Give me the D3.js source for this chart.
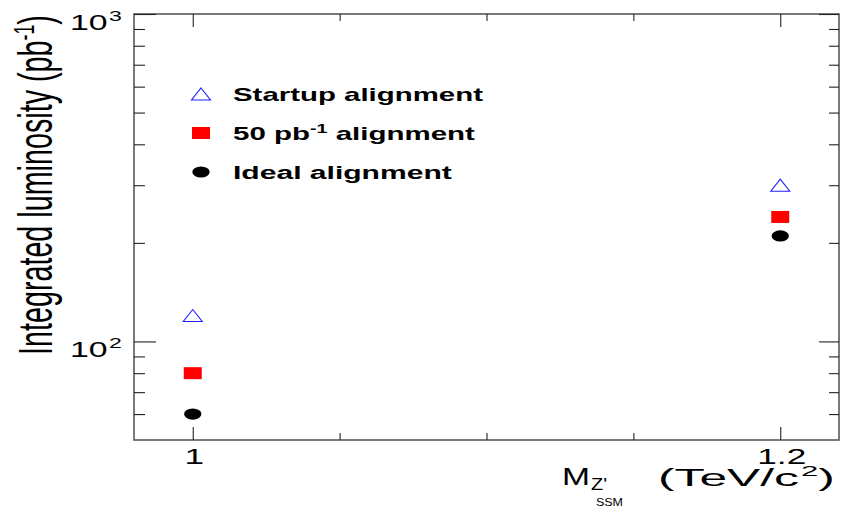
<!DOCTYPE html>
<html>
<head>
<meta charset="utf-8">
<script src="https://cdn.jsdelivr.net/npm/d3@7"></script>
<style>
  html, body { margin: 0; padding: 0; background: #fff; }
  svg { display: block; }
  text { font-family: "Liberation Sans", Arial, Helvetica, sans-serif; fill: #000; }
</style>
</head>
<body>
<svg id="chart" width="844" height="512"></svg>
<script>
// Z' (SSM) mass points, TeV/c^2
const masses = [1.0, 1.2];
// Integrated luminosity needed for each alignment scenario, pb^-1
const startupLumi = [120, 300];
const pb50Lumi = [80, 240];
const idealLumi = [60, 210];

const xMajorTicks = [1.0, 1.2];
const xMinorTicks = [1.05, 1.10, 1.15];
const xTickLabels = ["1", "1.2"];
const yMajorTicks = [100, 1000];
const yMinorTicks = [60, 70, 80, 90, 200, 300, 400, 500, 600, 700, 800, 900];
const yTickExponents = ["2", "3"];

// legend labels split into plain / superscript parts
const legendLabels = [
  [{ t: "Startup alignment" }],
  [{ t: "50 pb" }, { t: "-1", sup: true }, { t: " alignment" }],
  [{ t: "Ideal alignment" }]
];

const svg = d3.select("#chart");
const W = 844, H = 512;
const frame = { left: 134, right: 839, top: 14, bottom: 440 };

svg.append("rect").attr("width", W).attr("height", H).attr("fill", "#fff");

const x = d3.scaleLinear().domain([0.98, 1.22]).range([frame.left, frame.right]);
const y = d3.scaleLog().domain([50, 1000]).range([frame.bottom, frame.top]);

// ---- frame ----
svg.append("rect")
  .attr("x", frame.left).attr("y", frame.top)
  .attr("width", frame.right - frame.left)
  .attr("height", frame.bottom - frame.top)
  .attr("fill", "none").attr("stroke", "#5a5a5a").attr("stroke-width", 1.6);

// ---- ticks (drawn inward on all four sides) ----
function tickGroup(axis, tx, ty) {
  const g = svg.append("g").attr("transform", `translate(${tx},${ty})`).call(axis);
  g.select(".domain").remove();
  g.selectAll(".tick text").remove();
  g.selectAll(".tick line").attr("stroke", "#222").attr("stroke-width", 1.1);
  return g;
}
tickGroup(d3.axisRight(y).tickValues(yMajorTicks).tickSize(22).tickFormat(""), frame.left, 0);
tickGroup(d3.axisRight(y).tickValues(yMinorTicks).tickSize(11).tickFormat(""), frame.left, 0);
tickGroup(d3.axisLeft(y).tickValues(yMajorTicks).tickSize(20).tickFormat(""), frame.right, 0);
tickGroup(d3.axisLeft(y).tickValues(yMinorTicks).tickSize(10).tickFormat(""), frame.right, 0);
tickGroup(d3.axisTop(x).tickValues(xMajorTicks).tickSize(13).tickFormat(""), 0, frame.bottom);
tickGroup(d3.axisTop(x).tickValues(xMinorTicks).tickSize(7).tickFormat(""), 0, frame.bottom);
tickGroup(d3.axisBottom(x).tickValues(xMajorTicks).tickSize(13).tickFormat(""), 0, frame.top);
tickGroup(d3.axisBottom(x).tickValues(xMinorTicks).tickSize(7).tickFormat(""), 0, frame.top);

// stretch a text horizontally so that it spans `width`, starting at `x0`
function fitText(sel, x0, baseline, width) {
  const bb = sel.node().getBBox();
  const sx = width / bb.width;
  sel.attr("transform", `translate(${x0 - bb.x * sx},${baseline}) scale(${sx},1)`);
}

// ---- y tick labels: 10^2, 10^3 ----
yMajorTicks.forEach((v, i) => {
  const t = svg.append("text").attr("x", 0).attr("y", 0).style("font-size", "22px");
  t.append("tspan").text("10");
  t.append("tspan").attr("dx", 1).attr("dy", -9).style("font-size", "15px").text(yTickExponents[i]);
  fitText(t, 70, y(v) + 15.5, 52);
});

// ---- x tick labels ----
xMajorTicks.forEach((v, i) => {
  svg.append("text")
    .attr("text-anchor", "middle")
    .style("font-size", "22px")
    .attr("transform", `translate(${x(v) + 1.5},464) scale(1.6,1)`)
    .text(xTickLabels[i]);
});

// ---- x title: M_{Z'_{SSM}} (TeV/c^2) ----
const tM = svg.append("text").style("font-size", "24px").text("M");
fitText(tM, 562, 485, 28);
const tZ = svg.append("text").style("font-size", "16px").text("Z'");
fitText(tZ, 591, 490, 16);
const tS = svg.append("text").style("font-size", "10px").text("SSM");
fitText(tS, 596, 506, 27);
const tU = svg.append("text").style("font-size", "24px");
tU.append("tspan").text("(TeV/c");
tU.append("tspan").attr("dx", 1).attr("dy", -10).style("font-size", "15px").text("2");
tU.append("tspan").attr("dy", 10).text(")");
fitText(tU, 658, 486, 177);

// ---- y title ----
const yt = svg.append("text").attr("x", 0).attr("y", 0).style("font-size", "29px");
yt.append("tspan").text("Integrated luminosity (pb");
yt.append("tspan").attr("dy", -11).style("font-size", "18px").text("-1");
yt.append("tspan").attr("dy", 11).text(")");
{
  const len = yt.node().getBBox().width;
  yt.attr("transform", `translate(52,355) scale(1.68,${340 / len}) rotate(-90)`);
}

// ---- markers ----
const markerStyles = [
  { // open blue triangle
    path: d3.symbol().type(d3.symbolTriangle).size(83)(),
    sx: 1.37, sy: 1, dy: 2,
    fill: "none", stroke: "#1f1fff", sw: 1.1
  },
  { // filled red box
    path: d3.symbol().type(d3.symbolSquare).size(144)(),
    sx: 1.5, sy: 1, dy: 0,
    fill: "#ff0000", stroke: "none", sw: 0
  },
  { // filled black ellipse
    path: d3.symbol().type(d3.symbolCircle).size(Math.PI * 5.6 * 5.6)(),
    sx: 1.55, sy: 1, dy: 0,
    fill: "#000", stroke: "none", sw: 0
  }
];
const seriesValues = [startupLumi, pb50Lumi, idealLumi];

function drawMarker(g, style, cx, cy) {
  g.append("path")
    .attr("d", style.path)
    .attr("transform", `translate(${cx},${cy + style.dy}) scale(${style.sx},${style.sy})`)
    .attr("fill", style.fill)
    .attr("stroke", style.stroke)
    .attr("stroke-width", style.sw)
    .attr("vector-effect", "non-scaling-stroke");
}

const marks = svg.append("g");
seriesValues.forEach((vals, s) => {
  vals.forEach((v, i) => drawMarker(marks, markerStyles[s], x(masses[i]), y(v)));
});

// ---- legend ----
const legendRowY = [94, 133, 172];
const legendWidths = [250, 242, 219];
const legend = svg.append("g");
legendLabels.forEach((parts, i) => {
  drawMarker(legend, markerStyles[i], 201, legendRowY[i]);
  const t = legend.append("text").style("font-size", "18px").style("font-weight", "bold");
  parts.forEach(p => {
    const ts = t.append("tspan").text(p.t);
    if (p.sup) ts.attr("dy", -7).style("font-size", "12px");
    else if (t.selectAll("tspan").size() > 1) ts.attr("dy", 7);
  });
  fitText(t, 233, legendRowY[i] + 6.5, legendWidths[i]);
});
</script>
</body>
</html>
